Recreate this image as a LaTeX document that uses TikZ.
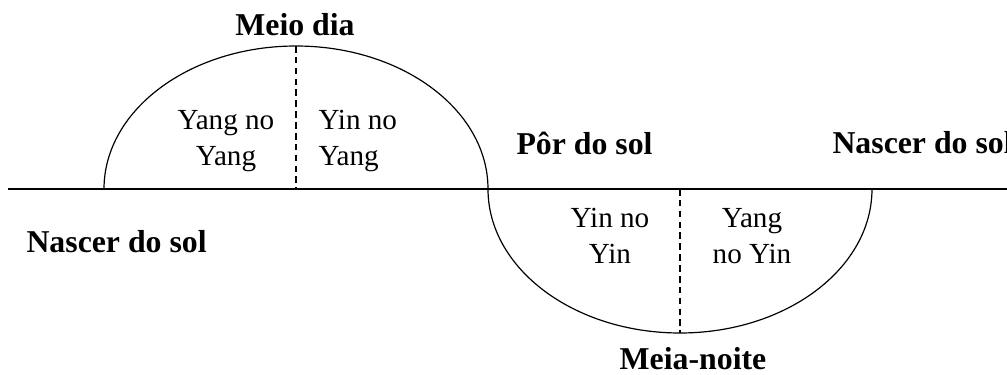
\documentclass[tikz,border=0pt]{standalone}
\usepackage{fontspec}
\setmainfont{Liberation Serif}
\begin{document}
\begin{tikzpicture}[x=0.3774pt,y=0.3774pt]
\tikzstyle{horizonte}=[line width=0.6pt]
\tikzstyle{curso}=[line width=0.45pt]
\tikzstyle{divisao}=[line width=0.4pt,dash pattern=on 2.5pt off 1.6pt]
\tikzset{momento/.style={font=\fontsize{12}{14}\selectfont\bfseries,inner sep=0pt,anchor=base},
metade/.style={font=\fontsize{11}{13.8}\selectfont,inner sep=0pt,align=#1},
metade/.default={center}}
\useasboundingbox (0,0) rectangle (1007,374);
\coordinate (O) at (8,185);
\coordinate (E) at (1010,185);
\coordinate (N1) at (104,185);
\coordinate (P) at (488,185);
\coordinate (MD) at (296,328);
\coordinate (MD0) at (296,185);
\coordinate (MN) at (680,41);
\coordinate (MN0) at (680,185);

\draw[horizonte] (O) -- (E);
\draw[curso] (N1) arc[start angle=180,end angle=0,x radius=192,y radius=143];
\draw[curso] (P) arc[start angle=180,end angle=360,x radius=192,y radius=144];
\draw[divisao] (MD) -- (MD0);
\draw[divisao] (MN0) -- (MN);

\node[momento] (meiodia) at (295,338) {Meio dia};
\node[momento] (meianoite) at (693,5) {Meia-noite};
\node[momento,anchor=base west] (por) at (516,219) {Pôr do sol};
\node[momento,anchor=base west] (nascer1) at (26,122) {Nascer do sol};
\node[momento,anchor=base west] (nascer2) at (832,220) {Nascer do sol};
\node[metade] (yangyang) at (226,233) {Yang no\\Yang};
\node[metade=left,anchor=west] (yinyang) at (318,233) {Yin no\\Yang};
\node[metade] (yinyin) at (610,138) {Yin no\\Yin};
\node[metade] (yangyin) at (752,138) {Yang\\no Yin};

\end{tikzpicture}
\end{document}
